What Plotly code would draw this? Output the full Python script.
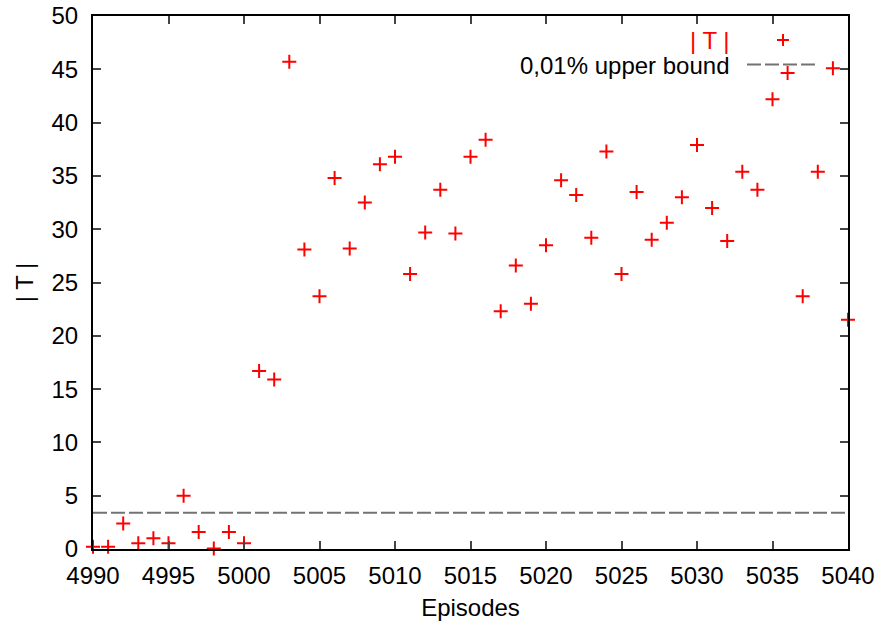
import plotly.graph_objects as go

episodes = list(range(4990, 5041))
t_values = [0.2, 0.2, 2.4, 0.55, 1.0, 0.55, 5.0, 1.6, 0.05, 1.6,
            0.55, 16.7, 15.9, 45.7, 28.1, 23.7, 34.8, 28.2, 32.5, 36.1,
            36.8, 25.8, 29.7, 33.7, 29.6, 36.8, 38.4, 22.3, 26.6, 23.0,
            28.5, 34.6, 33.2, 29.2, 37.3, 25.8, 33.5, 29.0, 30.6, 33.0,
            37.9, 32.0, 28.9, 35.4, 33.7, 42.2, 44.65, 23.7, 35.4, 45.1,
            21.5]
upper_bound = 3.4
bound_x = [4990, 5040]
x_ticks = list(range(4990, 5041, 5))
y_ticks = list(range(0, 51, 5))

FONT = "Liberation Sans, Arial, sans-serif"
FS = 24
DASH_COLOR = "#737373"
DASH = "14px,4px"

fig = go.Figure()
fig.add_trace(go.Scatter(
    x=bound_x, y=[upper_bound, upper_bound], mode="lines",
    line=dict(color=DASH_COLOR, width=1.8, dash=DASH),
    showlegend=False, hoverinfo="skip"))
fig.add_trace(go.Scatter(
    x=episodes, y=t_values, mode="markers",
    marker=dict(symbol="cross-thin", size=10, line=dict(color="red", width=2), color="red"),
    cliponaxis=False, showlegend=False))

W, H = 877, 626
L, R, T, B = 93, 848, 16, 549
def px(xp):
    return (xp - L) / (R - L)
def py(yp):
    return (B - yp) / (B - T)

shapes = [
    dict(type="line", xref="paper", yref="paper", x0=px(747), x1=px(815), y0=py(64.5), y1=py(64.5),
         line=dict(color=DASH_COLOR, width=1.8, dash=DASH)),
    dict(type="line", xref="paper", yref="paper", x0=px(777), x1=px(789), y0=py(40), y1=py(40),
         line=dict(color="red", width=2)),
    dict(type="line", xref="paper", yref="paper", x0=px(783), x1=px(783), y0=py(34), y1=py(46),
         line=dict(color="red", width=2)),
]

annotations = [
    dict(text="| T |", xref="paper", yref="paper", x=px(732), y=py(40), xanchor="right", yanchor="middle",
         showarrow=False, font=dict(family=FONT, size=FS, color="red")),
    dict(text="0,01% upper bound", xref="paper", yref="paper", x=px(732), y=py(65), xanchor="right",
         yanchor="middle", showarrow=False, font=dict(family=FONT, size=FS, color="black")),
]

fig.update_layout(
    width=W, height=H,
    margin=dict(l=L, r=W - R, t=T, b=H - B, autoexpand=False),
    paper_bgcolor="white", plot_bgcolor="white",
    font=dict(family=FONT, size=FS, color="black"),
    shapes=shapes, annotations=annotations,
    xaxis=dict(range=[4990, 5040], tickvals=x_ticks, ticks="inside", ticklen=8, tickwidth=1.5,
               showline=True, linecolor="black", linewidth=2, mirror="allticks",
               showgrid=False, zeroline=False, automargin=False, ticklabelstandoff=4,
               title=dict(text="Episodes", font=dict(size=FS), standoff=11)),
    yaxis=dict(range=[0, 50], tickvals=y_ticks, ticks="inside", ticklen=8, tickwidth=1.5,
               showline=True, linecolor="black", linewidth=2, mirror="allticks",
               showgrid=False, zeroline=False, automargin=False, ticklabelstandoff=8,
               title=dict(text="| T |", font=dict(size=FS), standoff=11)),
)

fig.write_html("out.html", config={"displayModeBar": False},
               post_script="document.body.style.margin='0px';document.body.style.overflow='hidden';")
